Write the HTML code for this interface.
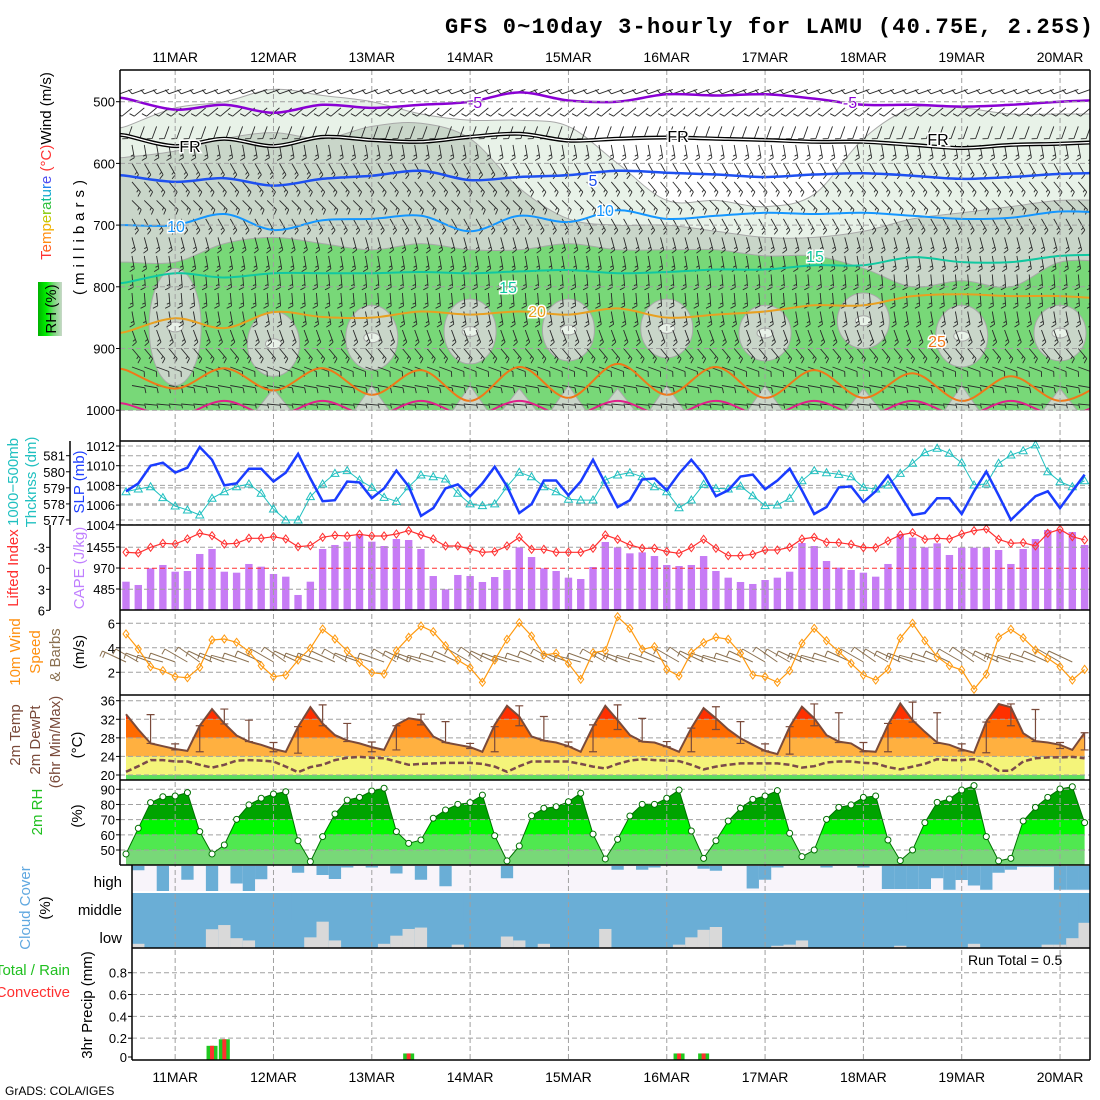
<!DOCTYPE html>
<html><head><meta charset="utf-8">
<style>
html,body{margin:0;padding:0;background:#fff;width:1100px;height:1100px;overflow:hidden}
svg text{font-family:"Liberation Sans",sans-serif}
</style></head>
<body>
<svg id="c" width="1100" height="1100" viewBox="0 0 1100 1100" xmlns="http://www.w3.org/2000/svg">
<defs>
  <clipPath id="clipMain"><rect x="120" y="70" width="970" height="340.2"/></clipPath>
  <linearGradient id="rhLeg" x1="0" x2="1" y1="0" y2="0">
    <stop offset="0" stop-color="#00b000"/><stop offset="0.35" stop-color="#00f000"/>
    <stop offset="0.65" stop-color="#78d878"/><stop offset="1" stop-color="#c8d8c8"/>
  </linearGradient>
</defs>
<rect x="0" y="0" width="1100" height="1100" fill="#fff"/>
<text x="1093" y="33" text-anchor="end" font-weight="bold" font-size="22" textLength="648" style="font-family:'Liberation Mono',monospace">GFS 0~10day 3-hourly for LAMU (40.75E, 2.25S)</text>

<g id="layer"></g>

<g font-size="15">
  <text transform="translate(51,166) rotate(-90)" text-anchor="middle"><tspan fill="#ff3030">T</tspan><tspan fill="#ff6020">e</tspan><tspan fill="#ff8c10">m</tspan><tspan fill="#f0b000">p</tspan><tspan fill="#c8c800">e</tspan><tspan fill="#80c800">r</tspan><tspan fill="#30c040">a</tspan><tspan fill="#10c090">t</tspan><tspan fill="#10a8d0">u</tspan><tspan fill="#2080f0">r</tspan><tspan fill="#5050f0">e</tspan><tspan fill="#ff3030"> (°C)</tspan><tspan fill="#000">Wind (m/s)</tspan></text>
  <rect x="38" y="282" width="24" height="54" fill="url(#rhLeg)"/>
  <text transform="translate(56,309) rotate(-90)" text-anchor="middle" fill="#000">RH (%)</text>
  <text transform="translate(84,235) rotate(-90)" text-anchor="middle" fill="#000" letter-spacing="5">(millibars)</text>
  <text transform="translate(18,482) rotate(-90)" text-anchor="middle" fill="#20c0c0">1000−500mb</text>
  <text transform="translate(36,482) rotate(-90)" text-anchor="middle" fill="#20c0c0">Thcknss (dm)</text>
  <text transform="translate(84,482) rotate(-90)" text-anchor="middle" fill="#2040ff">SLP (mb)</text>
  <text transform="translate(18,568) rotate(-90)" text-anchor="middle" fill="#ff3030">Lifted Index</text>
  <text transform="translate(84,568) rotate(-90)" text-anchor="middle" fill="#c080ff">CAPE (J/kg)</text>
  <text transform="translate(20,652) rotate(-90)" text-anchor="middle" fill="#ff9010">10m Wind</text>
  <text transform="translate(40,652) rotate(-90)" text-anchor="middle" fill="#ff9010">Speed</text>
  <text transform="translate(60,655) rotate(-90)" text-anchor="middle" fill="#8a7050">&amp; Barbs</text>
  <text transform="translate(84,652) rotate(-90)" text-anchor="middle" fill="#000">(m/s)</text>
  <text transform="translate(20,735) rotate(-90)" text-anchor="middle" fill="#7a4a3a">2m Temp</text>
  <text transform="translate(40,740) rotate(-90)" text-anchor="middle" fill="#7a4a3a">2m DewPt</text>
  <text transform="translate(60,742) rotate(-90)" text-anchor="middle" fill="#7a4a3a">(6hr Min/Max)</text>
  <text transform="translate(82,745) rotate(-90)" text-anchor="middle" fill="#000">(°C)</text>
  <text transform="translate(42,812) rotate(-90)" text-anchor="middle" fill="#20c020">2m RH</text>
  <text transform="translate(82,816) rotate(-90)" text-anchor="middle" fill="#000">(%)</text>
  <text transform="translate(30,908) rotate(-90)" text-anchor="middle" fill="#60a8e0">Cloud Cover</text>
  <text transform="translate(50,908) rotate(-90)" text-anchor="middle" fill="#000">(%)</text>
  <text x="122" y="887" text-anchor="end" fill="#000">high</text>
  <text x="122" y="915" text-anchor="end" fill="#000">middle</text>
  <text x="122" y="943" text-anchor="end" fill="#000">low</text>
  <text x="70" y="975" text-anchor="end" fill="#20c020">Total / Rain</text>
  <text x="70" y="997" text-anchor="end" fill="#ff3030">Convective</text>
  <text transform="translate(92,1005) rotate(-90)" text-anchor="middle" fill="#000">3hr Precip (mm)</text>
</g>
<text x="968" y="965" font-size="14" fill="#000">Run Total = 0.5</text>
<text x="5" y="1095" font-size="12" fill="#000">GrADS: COLA/IGES</text>
</svg>

<script>
// ---------- data ----------
const dayLabels = ["11MAR","12MAR","13MAR","14MAR","15MAR","16MAR","17MAR","18MAR","19MAR","20MAR"];
const slp = [1007.4,1008.2,1010.0,1010.3,1009.3,1009.8,1011.9,1010.6,1008.0,1008.2,1009.7,1009.7,1008.4,1009.3,1011.2,1008.7,
1006.4,1006.5,1008.4,1008.3,1006.7,1007.7,1009.5,1007.9,1004.9,1005.7,1007.7,1008.1,1006.9,1008.2,1009.9,1007.9,1005.2,1006.1,1008.5,1008.5,1007.0,1008.4,1010.6,1008.2,1005.8,1006.5,1008.6,1008.7,1007.5,1009.2,1010.6,1009.1,1006.9,
1007.5,1008.9,1009.1,1007.6,1008.5,1009.7,1007.5,1005.1,1005.8,1007.8,1007.9,1006.3,1007.4,1009.0,
1007.0,1005.0,1005.2,1006.7,1006.7,1005.1,1007.4,1009.4,1007.0,1004.5,1005.7,1006.9,1007.4,1005.7,1007.4,1009.1];
const thick = [578.76,578.93,579.07,578.39,577.87,577.62,577.31,578.35,578.76,579.07,579.24,578.66,577.68,577.0,577.0,578.45,
579.24,579.90,580.07,579.49,579.03,578.41,578.16,579.07,579.8,579.69,579.55,578.66,578.0,577.89,578.0,579.07,579.97,579.69,579.07,578.76,578.29,578.24,578.24,579.49,579.8,579.94,579.69,579.07,578.76,577.76,578.24,579.22,578.97,
578.93,579.11,578.51,577.89,577.93,578.35,579.44,580.07,579.94,579.84,579.69,579.03,578.93,579.18,
579.90,580.53,581.19,581.46,581.15,580.56,579.18,579.24,580.53,581.04,581.31,581.67,580.0,579.38,579.07,579.44];
const liftedIndex = [-2.29,-2.19,-3.0,-3.57,-3.47,-4.19,-5.0,-4.66,-3.47,-3.57,-4.29,-4.29,-4.52,-4.19,-3.09,-3.24,
-4.43,-4.71,-4.62,-4.86,-4.62,-4.62,-4.9,-5.38,-4.76,-4.19,-3.19,-3.19,-2.76,-2.29,-2.38,-3.19,-4.43,-2.71,-2.71,-2.29,-2.29,-2.29,-2.86,-4.76,-4.14,-3.33,-2.86,-2.86,-2.38,-2.14,-2.95,-4.14,-2.86,
-1.8,-1.8,-2.0,-2.61,-2.61,-3.0,-4.19,-4.43,-3.71,-3.66,-3.43,-2.95,-2.95,-3.9,
-4.76,-5.09,-4.14,-4.29,-4.19,-4.9,-5.38,-5.62,-4.14,-3.57,-3.66,-3.19,-5.0,-5.57,-4.52,-4.05];
const cape = [654,578,963,1040,885,901,1294,1409,885,862,1063,1001,832,770,347,654,
1409,1502,1578,1748,1578,1478,1640,1617,1409,785,478,809,785,647,762,924,1448,1224,963,901,747,716,993,1571,1448,1309,1332,1247,1040,1016,1040,1247,901,
747,647,601,693,747,885,1548,1478,1132,978,924,862,770,1063,
1756,1671,1448,1540,1271,1440,1440,1448,1386,1063,1409,1640,1848,1848,1802,1502];
const wind10 = [5.13,3.9,2.46,2.13,1.64,1.56,2.41,4.64,4.72,4.45,3.68,2.54,1.64,1.78,3.0,3.96,
5.53,4.72,3.74,2.8,1.97,1.86,3.76,4.86,5.78,5.31,4.17,3.0,2.38,1.18,3.0,4.69,6.05,4.96,3.41,3.55,2.73,1.43,3.6,3.76,6.54,5.59,3.88,4.09,2.24,1.7,3.6,4.42,4.86,
4.69,3.55,1.78,1.64,1.18,2.13,4.37,5.59,4.58,3.68,2.73,1.78,1.37,2.24,
4.78,6.0,4.58,3.27,2.54,2.19,0.61,1.84,4.86,5.51,4.82,3.82,3.14,2.46,1.37,2.24];
const wind10Dir = [295,300,290,285,290,300,305,295,290,285,290,295,300,305,295,290,
290,295,300,290,285,290,300,295,290,285,290,295,300,305,295,290,285,290,295,300,290,285,290,300,295,290,285,290,295,300,305,295,290,
285,290,295,300,305,300,295,290,285,290,295,300,305,300,
295,290,285,290,295,300,305,300,295,290,285,290,295,300,295];
const temp2m = [33.1,29.8,26.8,26.2,25.6,25.2,30.6,34.2,31.1,28.5,27.2,26.5,25.6,25.0,30.4,34.6,
31.1,28.6,27.4,26.8,26.0,25.4,30.8,32.2,31.8,28.3,27.0,26.5,26.0,25.0,30.8,34.9,32.6,28.3,27.4,27.0,26.2,25.0,30.4,34.9,31.8,28.6,27.2,27.0,26.1,25.0,30.1,34.4,
32.2,29.8,27.9,26.5,25.2,24.5,30.4,34.7,32.2,28.6,27.2,26.8,25.2,25.0,30.8,35.4,
31.8,29.3,27.0,26.5,25.5,24.8,31.5,35.3,34.6,29.0,27.3,27.0,26.5,25.4,29.1];
const dew2m = [20.7,21.9,23.2,23.2,22.9,22.9,22.2,21.6,22.2,23.1,23.2,23.1,22.9,21.8,20.6,21.7,
22.2,23.2,23.7,23.9,23.7,23.6,22.9,22.2,22.4,22.5,22.6,22.6,22.6,22.4,21.8,20.7,21.9,22.9,22.9,22.9,22.9,22.4,21.8,21.4,22.4,23.1,23.4,23.2,23.1,23.0,22.2,21.2,
21.8,22.2,22.5,22.5,22.5,22.5,22.2,21.6,21.9,22.7,22.9,22.9,22.6,22.5,21.7,21.2,
21.8,22.4,23.4,23.2,23.2,23.4,22.5,20.9,20.9,22.9,23.6,23.8,23.8,23.9,23.6];
const tMax6 = [null,33.0,26.7,30.6,34.2,31.8,27.0,30.4,35.1,31.1,27.1,30.6,33.1,31.5,26.8,30.4,34.9,32.6,27.1,30.8,35.1,32.2,27.2,30.1,34.7,31.5,26.7,30.4,35.3,33.4,27.0,31.1,35.7,33.4,26.7,31.4,35.3,34.1,27.0,29.1];
const tMin6 = [null,26.8,25.4,25.0,31.0,27.2,25.0,24.7,30.6,27.2,25.0,25.4,30.8,27.0,25.7,25.0,30.6,27.4,26.1,25.0,29.8,27.2,26.1,25.0,29.8,26.8,25.2,24.5,30.6,27.0,25.0,25.0,31.4,26.8,25.2,24.8,30.6,27.2,25.7,25.4];
const rh2m = [47.4,64.3,81.2,85.1,85.6,87.8,62.1,47.4,53.3,70.2,79.7,84.1,86.9,88.4,56.1,42.3,
58.8,73.7,82.9,84.7,88.9,90.7,62.1,54.4,56.6,70.9,76.4,80.1,81.2,86.2,59.4,42.8,52.6,72.6,77.5,78.5,81.8,87.4,60.5,44.1,57.0,72.4,80.1,80.1,84.1,89.5,62.5,44.5,
56.1,69.1,77.5,83.4,85.6,89.1,61.0,45.6,50.0,70.2,78.1,79.7,84.7,85.6,56.6,43.0,
50.0,68.0,81.4,83.6,89.5,92.4,58.8,42.8,44.5,69.1,78.1,84.7,90.2,91.7,68.0];
const cloudHigh = [0,17,0,100,0,55,0,100,0,70,100,53,0,0,27,0,
36,52,6,0,6,0,30,0,55,0,81,0,0,0,0,49,0,0,0,0,0,0,0,0,15,0,15,6,0,0,0,11,
19,0,0,90,55,6,0,0,0,6,0,0,6,0,92,92,
92,92,49,95,56,78,95,27,15,3,3,3,95,95,95];
const cloudMid = [100,100,100,100,100,100,100,100,100,100,100,100,100,100,100,100,100,100,100,100,100,100,100,100,100,100,100,100,100,100,100,100,100,100,100,100,100,100,100,100,100,100,100,100,100,100,100,100,100,100,100,100,100,100,100,100,100,100,100,100,100,100,100,100,100,100,100,100,100,100,100,100,100,100,100,100,100,100,100];
const cloudLow = [10,15,0,0,0,0,0,67,82,35,27,0,0,0,0,38,
94,27,0,0,0,15,44,68,73,0,0,12,0,0,0,41,27,0,15,0,0,0,0,68,0,0,0,0,0,12,38,65,
75,0,0,0,0,8,12,27,0,0,0,0,0,0,0,8,
0,0,0,0,0,15,0,0,0,0,0,12,12,35,90];
const precipTotal = [0,0,0,0,0,0,0,0.13,0.19,0,0,0,0,0,0,0,0,0,0,0,0,0,0,0.06,0,0,0,0,0,0,0,0,0,0,0,0,0,0,0,0,0,0,0,0,0,0.06,0,0.06,0,0,0,0,0,0,0,0,0,0,0,0,0,0,0,0,0,0,0,0,0,0,0,0,0,0,0,0,0,0,0];
const precipConv = [0,0,0,0,0,0,0,0.13,0.19,0,0,0,0,0,0,0,0,0,0,0,0,0,0,0.06,0,0,0,0,0,0,0,0,0,0,0,0,0,0,0,0,0,0,0,0,0,0.06,0,0.06,0,0,0,0,0,0,0,0,0,0,0,0,0,0,0,0,0,0,0,0,0,0,0,0,0,0,0,0,0,0,0];
const rh30Top = [540,510,500,480,490,500,520,530,530,540,600,660,660,670,650,560,510,510,520,520,520];
const rh50Top = [590,580,560,550,560,540,535,560,640,690,700,700,710,720,720,710,690,680,670,660,660];
const rh70Top = [760,760,730,720,730,740,730,740,740,730,740,740,740,750,750,770,800,790,800,760,760];
const pocketTop = [0,770,0,840,0,830,0,820,0,820,0,820,0,830,0,810,0,830,0,830,0];
const pocketBot = [0,960,0,945,0,935,0,925,0,920,0,915,0,920,0,900,0,930,0,920,0];
const hillTop = [1000,1000,1000,965,1000,960,1000,960,965,960,965,960,1000,960,1000,965,1000,960,1000,965,1000];
const isoM5 = [495,513,505,518,505,510,505,500,485,498,500,488,490,488,495,505,505,508,505,500,497];
const isoFR = [555,572,560,572,557,562,565,557,552,563,560,558,560,562,565,565,570,575,570,568,565];
const iso5 = [620,630,624,636,625,620,612,627,622,619,612,615,618,622,618,616,620,625,622,617,615];
const iso10 = [700,700,682,708,692,690,685,710,685,695,676,690,685,680,682,680,685,690,688,678,680];
const iso15 = [793,778,785,778,778,778,776,778,775,773,778,776,772,772,765,765,752,760,760,750,748];
const iso20 = [873,851,867,841,849,850,840,845,840,845,835,850,845,840,830,830,815,812,815,815,820];
const iso25 = [935,965,932,968,932,975,935,985,930,980,925,975,930,980,935,980,940,985,945,985,950];
const iso30 = [990,1010,985,1010,985,1010,985,1010,985,1010,985,1010,985,1010,985,1010,985,1010,985,1010,985];
const barbLev = [480,510,540,570,600,630,660,690,720,750,780,810,840,870,900,930,960,990];
const barbDir = [250,230,200,170,150,140,135,150,165,170,175,175,170,160,140,110,100,95];
const barbSpd = [10,10,10,15,15,15,15,15,15,15,15,15,15,15,15,10,10,5];
const presTicks = [500,600,700,800,900,1000];
const slpTicks = [1004,1006,1008,1010,1012];
const thickTicks = [577,578,579,580,581];
const liTicks = [-3,0,3,6];
const capeTicks = [485,970,1455];
const windTicks = [2,4,6];
const tempTicks = [20,24,28,32,36];
const rhTicks = [50,60,70,80,90];
const precipTicks = [0,0.2,0.4,0.6,0.8];

// ---------- scales ----------
const NS = 'http://www.w3.org/2000/svg';
const L = document.getElementById('layer');
function mk(tag, attrs, parent){const e=document.createElementNS(NS,tag);for(const k in attrs)e.setAttribute(k,attrs[k]);(parent||L).appendChild(e);return e;}
const X = i => 126 + 12.29*i;
const XK = k => 126 + 49.16*k;
const yP = p => 101.7 + (p-500)*0.617;
const ySLP = v => 446 + (1012-v)*9.85;
const yThk = v => 455.7 + (581-v)*16.07;
const yLI = v => 568.3 + v*7;
const yCAPE = v => 610 - v/23.1;
const yWS = v => 623.3 + (6-v)*12.25;
const yT = v => 700.7 + (36-v)*4.644;
const yRH = v => 789.3 + (90-v)*1.5175;
const yPr = v => 1060 - v*109.1;

function smooth(pts){let d='M'+pts[0][0].toFixed(1)+','+pts[0][1].toFixed(1);
 for(let i=0;i<pts.length-1;i++){const p0=pts[Math.max(0,i-1)],p1=pts[i],p2=pts[i+1],p3=pts[Math.min(pts.length-1,i+2)];
  d+=' C'+(p1[0]+(p2[0]-p0[0])/6).toFixed(1)+','+(p1[1]+(p2[1]-p0[1])/6).toFixed(1)+' '+(p2[0]-(p3[0]-p1[0])/6).toFixed(1)+','+(p2[1]-(p3[1]-p1[1])/6).toFixed(1)+' '+p2[0].toFixed(1)+','+p2[1].toFixed(1);}
 return d;}
function kPts(arr){const pts=[[118,yP(arr[0])]];arr.forEach((v,k)=>pts.push([XK(k),yP(v)]));return pts;}

// ---------- main cross-section ----------
const gMain = mk('g',{'clip-path':'url(#clipMain)'});


[[rh30Top,'#e8f2e8','rh-30-region'],[rh50Top,'#c9d6c9','rh-50-region'],[rh70Top,'#78d878','rh-70-region']].forEach(([arr,col,nm])=>{
  const pts=kPts(arr);
  const p=mk('path',{d:smooth(pts)+' L1110,420 L118,420 Z',fill:col,stroke:'#a8a8a8','stroke-width':1},gMain);
  
  
});
pocketTop.forEach((t,k)=>{ if(pocketBot[k]>t){
  const e=mk('ellipse',{cx:XK(k),cy:yP((t+pocketBot[k])/2),rx:26,ry:(pocketBot[k]-t)*0.617/2,fill:'#c9d6c9',stroke:'#a8a8a8'},gMain);
  
  
  const c=mk('ellipse',{cx:XK(k),cy:yP((t+pocketBot[k])/2),rx:8,ry:5,fill:'#e8f2e8',stroke:'#a8a8a8'},gMain);
  
  
}});
hillTop.forEach((h,k)=>{ if(h<1000){
  const t=mk('polygon',{points:`${XK(k)-18},${yP(1002)} ${XK(k)},${yP(h)} ${XK(k)+18},${yP(1002)}`,fill:'#c9d6c9',stroke:'#a8a8a8'},gMain);
  
  
}});
barbLev.forEach((lev,r)=>{
  const th=barbDir[r]*Math.PI/180, sx=Math.sin(th), sy=-Math.cos(th);
  for(let i=0;i<79;i++){
    const x=X(i)+6, y=yP(lev); const ex=x+13*sx, ey=y+13*sy;
    let d=`M${x.toFixed(1)},${y.toFixed(1)} L${ex.toFixed(1)},${ey.toFixed(1)}`;
    const nb=Math.floor(barbSpd[r]/10), half=barbSpd[r]%10>=5;
    for(let b=0;b<nb;b++){const bx=ex-b*3*sx, by=ey-b*3*sy; d+=` M${bx.toFixed(1)},${by.toFixed(1)} l${(5*(-sy)+2*sx).toFixed(1)},${(5*sx+2*sy).toFixed(1)}`;}
    if(half){const bx=ex-nb*3*sx, by=ey-nb*3*sy; d+=` M${bx.toFixed(1)},${by.toFixed(1)} l${(3*(-sy)+1*sx).toFixed(1)},${(3*sx+1*sy).toFixed(1)}`;}
    const p=mk('path',{d:d,stroke:'#2a2a2a','stroke-width':0.9,fill:'none'},gMain);
    
    
  }
});
[[isoM5,'#8a00d4',2.5,'isotherm-minus5'],[iso5,'#1e50f0',2.5,'isotherm-5'],[iso10,'#1496ff',2,'isotherm-10'],[iso15,'#10c8a0',2,'isotherm-15'],[iso20,'#e8a020',2,'isotherm-20'],[iso25,'#f07818',2,'isotherm-25'],[iso30,'#e0208a',2,'isotherm-30']].forEach(([arr,col,w,nm])=>{
  const p=mk('path',{d:smooth(kPts(arr)),stroke:col,'stroke-width':w,fill:'none'},gMain);
  
  
});
const fr1=mk('path',{d:smooth(kPts(isoFR)),stroke:'#000','stroke-width':4,fill:'none'},gMain);


const fr2=mk('path',{d:smooth(kPts(isoFR)),stroke:'#fff','stroke-width':1.3,fill:'none'},gMain);


[[475,108,'-5','#8a00d4'],[850,108,'-5','#8a00d4'],[190,152,'FR','#000'],[678,142,'FR','#000'],[938,145,'FR','#000'],[593,186,'5','#1e50f0'],[176,232,'10','#1496ff'],[605,216,'10','#1496ff'],[508,293,'15','#10c8a0'],[815,262,'15','#10c8a0'],[537,317,'20','#e8a020'],[937,347,'25','#f07818']].forEach(([x,y,t,c])=>{
  const e=mk('text',{x:x,y:y,'font-size':16,fill:c,'text-anchor':'middle',stroke:'#fff','stroke-width':3,'paint-order':'stroke'},gMain);
  e.textContent=t;
  
  
});

// ---------- temperature panel ----------
const gT = mk('g',{});


const clipT=mk('clipPath',{id:'clipTUnder'},gT);


const tPts=temp2m.map((v,i)=>`${X(i).toFixed(1)},${yT(v).toFixed(1)}`);
const cp=mk('polygon',{points:`${X(0)},780 `+tPts.join(' ')+` ${X(78)},780`},clipT);


const gTB=mk('g',{'clip-path':'url(#clipTUnder)'},gT);


[[32,40,'#ff3000'],[28,32,'#ff6a00'],[24,28,'#ffb040'],[20,24,'#f4f47a'],[10,20,'#5ee05e']].forEach(([lo,hi,c])=>{
  const r=mk('rect',{x:120,y:yT(hi),width:970,height:yT(lo)-yT(hi),fill:c},gTB);
  
  
});
// ---------- RH panel ----------
const clipR=mk('clipPath',{id:'clipRUnder'},gT);


const rPts=rh2m.map((v,i)=>`${X(i).toFixed(1)},${yRH(v).toFixed(1)}`);
const rp=mk('polygon',{points:`${X(0)},865 `+rPts.join(' ')+` ${X(78)},865`},clipR);


const gRB=mk('g',{'clip-path':'url(#clipRUnder)'});


[[70,100,'#00a400'],[60,70,'#00f800'],[50,60,'#50e850'],[30,50,'#78d878']].forEach(([lo,hi,c])=>{
  const r=mk('rect',{x:120,y:yRH(hi),width:970,height:yRH(lo)-yRH(hi),fill:c},gRB);
  
  
});

// ---------- cloud panel ----------
const bgH=mk('rect',{x:132,y:866,width:958,height:26,fill:'#f8f4fa'});


const bgL=mk('rect',{x:132,y:892,width:958,height:56,fill:'#6aaed6'});


for(let i=0;i<79;i++){
  const x0=Math.max(132,X(i)-6.15), x1=Math.min(1090,X(i)+6.15); if(x1<=x0) continue;
  if(cloudHigh[i]>0){const r=mk('rect',{x:x0,y:866,width:x1-x0,height:25*cloudHigh[i]/100,fill:'#6aaed6'});
    
    }
  const m=mk('rect',{x:x0,y:893,width:x1-x0,height:27*cloudMid[i]/100,fill:'#6aaed6'});
  
  
  if(cloudLow[i]>0){const h=28*cloudLow[i]/100;const r=mk('rect',{x:x0,y:948-h,width:x1-x0,height:h,fill:'#d9d9d9'});
    
    }
}
const sep=mk('line',{x1:132,x2:1090,y1:892,y2:892,stroke:'#fff','stroke-width':2});



// ---------- CAPE bars ----------
cape.forEach((v,i)=>{const r=mk('rect',{x:X(i)-3.7,y:yCAPE(v),width:7.4,height:610-yCAPE(v),fill:'#c77cf5'});
  
  });

// ---------- precip bars ----------
precipTotal.forEach((v,i)=>{ if(v>0){
  const g=mk('rect',{x:X(i)-5.5,y:yPr(v),width:11,height:1060-yPr(v),fill:'#20c820'});
  
  
  const r=mk('rect',{x:X(i)-2,y:yPr(precipConv[i]),width:4,height:1060-yPr(precipConv[i]),fill:'#ff3030'});
  
  
}});

// ---------- grid lines ----------
function hgrid(y,x0,col,nm){const l=mk('line',{x1:x0,x2:1090,y1:y,y2:y,stroke:col||'#a0a0a0','stroke-width':1,'stroke-dasharray':'5,3'});
  
  }
presTicks.forEach(p=>hgrid(yP(p),120));
slpTicks.forEach(v=>hgrid(ySLP(v),120));
thickTicks.forEach(v=>hgrid(yThk(v),120));
[-3,3].forEach(v=>hgrid(yLI(v),120));
hgrid(yLI(0),120,'#ff3030','li-zero-line');
windTicks.forEach(v=>hgrid(yWS(v),120));
tempTicks.forEach(v=>hgrid(yT(v),120));
rhTicks.forEach(v=>hgrid(yRH(v),120));
precipTicks.slice(1).forEach(v=>hgrid(yPr(v),132));
dayLabels.forEach((d,j)=>{
  const x=X(4+8*j);
  const l=mk('line',{x1:x,x2:x,y1:70,y2:1060,stroke:'#a0a0a0','stroke-width':1,'stroke-dasharray':'5,3'});
  
  
  const t1=mk('text',{x:x,y:62,'font-size':14,'text-anchor':'middle',fill:'#000'});
  t1.textContent=d;
  
  
  const t2=mk('text',{x:x,y:1082,'font-size':14,'text-anchor':'middle',fill:'#000'});
  t2.textContent=d;
  
  
});

// ---------- series lines ----------
function line(arr,yf,col,w,nm,dash){const pts=arr.map((v,i)=>`${X(i).toFixed(1)},${yf(v).toFixed(1)}`).join(' ');
  const p=mk('polyline',{points:pts,stroke:col,'stroke-width':w,fill:'none','stroke-dasharray':dash||'none'});
  
  }
line(thick,yThk,'#20c0c0',1,'thickness-line');
thick.forEach((v,i)=>{const x=X(i),y=yThk(v);const t=mk('polygon',{points:`${x},${y-4} ${x-4},${y+3} ${x+4},${y+3}`,fill:'none',stroke:'#20c0c0'});
  
  });
line(slp,ySLP,'#1a3cff',2.5,'slp-line');
line(liftedIndex,yLI,'#ff3030',1.2,'lifted-index-line');
liftedIndex.forEach((v,i)=>{const x=X(i),y=yLI(v);const t=mk('polygon',{points:`${x},${y-4} ${x-3},${y} ${x},${y+4} ${x+3},${y}`,fill:'none',stroke:'#ff3030'});
  
  });
wind10.forEach((v,i)=>{
  const th=wind10Dir[i]*Math.PI/180, sx=Math.sin(th), sy=-Math.cos(th);
  const x=X(i), y=662, ex=x+26*sx, ey=y+26*sy;
  let d=`M${x.toFixed(1)},${y} L${ex.toFixed(1)},${ey.toFixed(1)} M${ex.toFixed(1)},${ey.toFixed(1)} l${(6*sy).toFixed(1)},${(-6*sx).toFixed(1)}`;
  if(v>=5){d+=` M${(ex-3*sx).toFixed(1)},${(ey-3*sy).toFixed(1)} l${(6*sy).toFixed(1)},${(-6*sx).toFixed(1)}`;}
  const p=mk('path',{d:d,stroke:'#8a7050','stroke-width':1,fill:'none'});
  
  
});
line(wind10,yWS,'#ff9a10',1.2,'wind10-speed-line');
wind10.forEach((v,i)=>{const x=X(i),y=yWS(v);const t=mk('polygon',{points:`${x},${y-4} ${x-3},${y} ${x},${y+4} ${x+3},${y}`,fill:'none',stroke:'#ff9a10'});
  
  });
line(temp2m,yT,'#7a4a3a',2,'temp-line');
line(dew2m,yT,'#7a4a4a',2.5,'dewpoint-line','6,3');
tMax6.forEach((mx,j)=>{ if(mx===null) return; const i=2*j, x=X(i), y1=yT(mx), y2=yT(tMin6[j]);
  const p=mk('path',{d:`M${x},${y1} L${x},${y2} M${x-4},${y1} L${x+4},${y1} M${x-4},${y2} L${x+4},${y2}`,stroke:'#7a4a3a','stroke-width':1.2,fill:'none'});
  
  });
line(rh2m,yRH,'#007000',1,'rh2m-line');
rh2m.forEach((v,i)=>{const c=mk('circle',{cx:X(i),cy:yRH(v),r:3,fill:'#fff',stroke:'#007000'});
  
  });

// ---------- frames ----------
function fl(x1,y1,x2,y2,nm){const l=mk('line',{x1:x1,y1:y1,x2:x2,y2:y2,stroke:'#000','stroke-width':1.5});
  
  }
[70,441,525,610,695,780,865].forEach(y=>fl(120,y,1090,y,'panel-border'));
[948,1060].forEach(y=>fl(132,y,1090,y,'panel-border'));
fl(120,70,120,865,'left-axis');
fl(132,865,132,1060,'left-axis-lower');
fl(1090,70,1090,1060,'right-axis');
fl(70,441,70,525,'thickness-axis');
fl(50,525,50,610,'lifted-index-axis');

// ---------- tick labels ----------
function tl(x,y,t,nm,col){const e=mk('text',{x:x,y:y+5,'font-size':13,'text-anchor':'end',fill:col||'#000'});
  e.textContent=t;
  
  
  const k=mk('line',{x1:x+1,x2:x+5,y1:y,y2:y,stroke:'#000'});
  
  }
presTicks.forEach(p=>tl(115,yP(p),String(p),'pressure-tick'));
slpTicks.forEach(v=>tl(115,ySLP(v),String(v),'slp-tick'));
thickTicks.forEach(v=>tl(65,yThk(v),String(v),'thickness-tick'));
liTicks.forEach(v=>tl(45,yLI(v),String(v),'li-tick'));
capeTicks.forEach(v=>tl(115,yCAPE(v),String(v),'cape-tick'));
windTicks.forEach(v=>tl(115,yWS(v),String(v),'wind10-tick'));
tempTicks.forEach(v=>tl(115,yT(v),String(v),'temp-tick'));
rhTicks.forEach(v=>tl(115,yRH(v),String(v),'rh-tick'));
precipTicks.forEach(v=>tl(127,yPr(v)-(v===0?3:0),String(v),'precip-tick'));
</script>
</body></html>
